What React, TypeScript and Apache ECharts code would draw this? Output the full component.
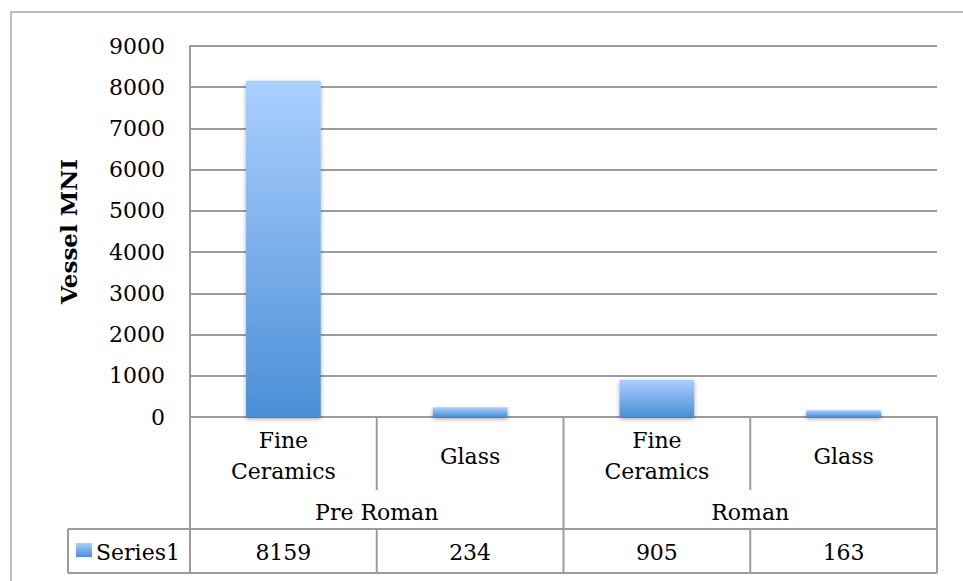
import React, { useEffect, useRef } from "react";
import * as echarts from "echarts";

const categories = ["Fine\nCeramics", "Glass", "Fine\nCeramics", "Glass"];
const groups = ["Pre Roman", "Roman"];
const seriesName = "Series1";
const values = [8159, 234, 905, 163];
const yTicks = { min: 0, max: 9000, interval: 1000 };

const FONT = "'DejaVu Serif', 'Liberation Serif', serif";
const GRID = { left: 190, top: 46, width: 747, height: 371 };
const LINE = "#9c9c9c";

export default function App() {
  const ref = useRef<HTMLDivElement>(null);
  useEffect(() => {
    document.body.style.margin = "0";
    const chart = echarts.init(ref.current!, null, { renderer: "svg" });
    const L = GRID.left;
    const R = GRID.left + GRID.width;
    const B = GRID.top + GRID.height; // axis baseline
    const catW = GRID.width / categories.length;
    const rowCatBottom = 490;
    const rowGroupBottom = 529;
    const rowValBottom = 573;
    const tableLeft = 68;

    const barGrad = () =>
      new echarts.graphic.LinearGradient(0, 0, 0, 1, [
        { offset: 0, color: "#abcfff" },
        { offset: 1, color: "#4b8fd7" },
      ]);

    const lines: any[] = [];
    const ln = (x1: number, y1: number, x2: number, y2: number) =>
      lines.push({
        type: "line",
        shape: { x1, y1, x2, y2 },
        style: { stroke: LINE, lineWidth: 2 },
        silent: true,
      });
    ln(L, B, L, rowValBottom);
    ln(R, B, R, rowValBottom);
    const perGroup = categories.length / groups.length;
    for (let i = 1; i < categories.length; i++) {
      const x = L + catW * i;
      if (i % perGroup === 0) {
        ln(x, B, x, rowValBottom);
      } else {
        ln(x, B, x, rowCatBottom);
        ln(x, rowGroupBottom, x, rowValBottom);
      }
    }
    ln(tableLeft, rowGroupBottom, R, rowGroupBottom);
    ln(tableLeft, rowValBottom, R, rowValBottom);
    ln(tableLeft, rowGroupBottom, tableLeft, rowValBottom);

    const texts: any[] = [];
    groups.forEach((g, gi) => {
      texts.push({
        type: "text",
        x: L + catW * perGroup * (gi + 0.5),
        y: (rowCatBottom + rowGroupBottom) / 2 + 3,
        style: { text: g, font: `22px ${FONT}`, fill: "#000", align: "center", verticalAlign: "middle" },
      });
    });
    values.forEach((v, i) => {
      texts.push({
        type: "text",
        x: L + catW * (i + 0.5),
        y: (rowGroupBottom + rowValBottom) / 2 + 1,
        style: { text: String(v), font: `22px ${FONT}`, fill: "#000", align: "center", verticalAlign: "middle" },
      });
    });
    texts.push({
      type: "rect",
      shape: { x: 76, y: 543, width: 16, height: 14 },
      style: { fill: barGrad() },
    });
    texts.push({
      type: "text",
      x: 96,
      y: (rowGroupBottom + rowValBottom) / 2 + 1,
      style: { text: seriesName, font: `22px ${FONT}`, fill: "#000", align: "left", verticalAlign: "middle" },
    });
    texts.push({
      type: "rect",
      shape: { x: 11, y: 12, width: 1000, height: 650 },
      style: { fill: "none", stroke: "#a8a8a8", lineWidth: 1.5 },
      silent: true,
    });

    chart.setOption({
      animation: false,
      backgroundColor: "#fff",
      grid: { left: GRID.left, top: GRID.top, width: GRID.width, height: GRID.height, containLabel: false },
      xAxis: {
        type: "category",
        data: categories,
        axisLine: { show: true, lineStyle: { color: LINE, width: 2 } },
        axisTick: { show: false },
        axisLabel: {
          interval: 0,
          verticalAlign: "middle",
          margin: 39,
          lineHeight: 31,
          fontFamily: FONT,
          fontSize: 22,
          color: "#000",
        },
      },
      yAxis: {
        type: "value",
        min: yTicks.min,
        max: yTicks.max,
        interval: yTicks.interval,
        name: "Vessel MNI",
        nameLocation: "middle",
        nameRotate: 90,
        nameGap: 110,
        nameTextStyle: { fontFamily: FONT, fontSize: 23, fontWeight: "bold", color: "#000" },
        axisLine: { show: true, lineStyle: { color: LINE, width: 2 } },
        axisTick: { show: false },
        axisLabel: {
          margin: 25,
          fontFamily: FONT,
          fontSize: 22,
          color: "#000",
          formatter: (v: number) => String(v),
        },
        splitLine: { show: true, lineStyle: { color: LINE, width: 2 } },
      },
      series: [
        {
          type: "bar",
          name: seriesName,
          data: values,
          barWidth: "40%",
          itemStyle: {
            color: barGrad(),
            shadowColor: "rgba(0,0,0,0.35)",
            shadowBlur: 4,
            shadowOffsetY: 2,
          },
        },
      ],
      graphic: [...lines, ...texts],
    });
    return () => chart.dispose();
  }, []);
  return <div ref={ref} style={{ width: 963, height: 581 }} />;
}
